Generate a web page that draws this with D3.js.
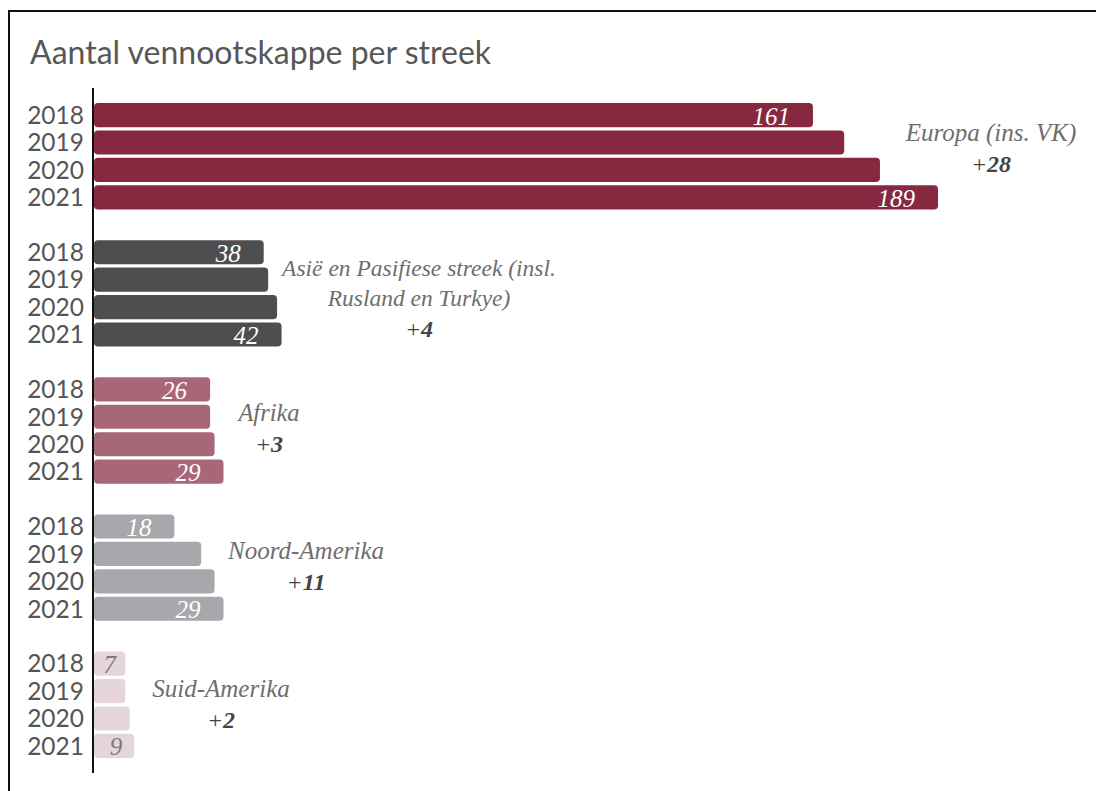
<!DOCTYPE html>
<html>
<head>
<meta charset="utf-8">
<script src="https://cdn.jsdelivr.net/npm/d3@7"></script>
<style>
  html, body { margin: 0; padding: 0; background: #fff; }
  svg { display: block; }
</style>
</head>
<body>
<svg id="chart" width="1096" height="791"></svg>
<script>
// ---- Data ----
const title = "Aantal vennootskappe per streek";
const years = ["2018", "2019", "2020", "2021"];
const regions = ["Europa", "Asie", "Afrika", "NoordAmerika", "SuidAmerika"];
const regionLabels = [
  ["Europa (ins. VK)"],
  ["Asië en Pasifiese streek (insl.", "Rusland en Turkye)"],
  ["Afrika"],
  ["Noord-Amerika"],
  ["Suid-Amerika"]
];
const europa       = [161, 168, 176, 189];
const asie         = [38, 39, 41, 42];
const afrika       = [26, 26, 27, 29];
const noordAmerika = [18, 24, 27, 29];
const suidAmerika  = [7, 7, 8, 9];
const seriesValues = [europa, asie, afrika, noordAmerika, suidAmerika];

// ---- Styles ----
const colors = ["#862840", "#4e4e50", "#a86779", "#a7a8ab", "#e6d5da"];
const valueColors = ["#ffffff", "#ffffff", "#ffffff", "#ffffff", "#7a7a7a"];
const annot = [
  {x: 991, dy: 25, size: 25},
  {x: 419, dy: 23, size: 23.5},
  {x: 269, dy: 31, size: 24.5},
  {x: 306, dy: 32, size: 25},
  {x: 221, dy: 32, size: 25}
];

const svg = d3.select("#chart");

// frame
svg.append("path")
  .attr("d", "M9,800 L9,11 L1110,11")
  .attr("fill", "none")
  .attr("stroke", "#111")
  .attr("stroke-width", 2);

// title
svg.append("text")
  .attr("x", 30).attr("y", 64)
  .attr("font-family", "Lato, 'Open Sans', sans-serif")
  .attr("font-size", 32)
  .attr("fill", "#575757")
  .text(title);

// slots
const slots = [];
regions.forEach((r, gi) => {
  years.forEach((y, yi) => slots.push({key: r + "-" + y, region: r, gi, yi, year: y, value: seriesValues[gi][yi]}));
  if (gi < regions.length - 1) slots.push({key: r + "-gap", gap: true});
});

const yScale = d3.scaleBand()
  .domain(slots.map(d => d.key))
  .range([103, 758])
  .paddingInner(0.12)
  .paddingOuter(0);

const xScale = d3.scaleLinear().domain([0, 189]).range([94, 938]);

const bars = slots.filter(d => !d.gap);

// bars
svg.append("g").selectAll("rect")
  .data(bars).join("rect")
  .attr("x", xScale(0))
  .attr("y", d => yScale(d.key))
  .attr("width", d => xScale(d.value) - xScale(0))
  .attr("height", yScale.bandwidth())
  .attr("rx", 4).attr("ry", 4)
  .attr("fill", d => colors[d.gi]);

// axis (y) with year labels
const yAxis = d3.axisLeft(yScale)
  .tickSize(0)
  .tickPadding(9)
  .tickFormat(k => { const s = slots.find(d => d.key === k); return s.gap ? "" : s.year; });
const ag = svg.append("g").attr("transform", `translate(${xScale(0) - 1},0)`).call(yAxis);
ag.select(".domain").remove();
ag.selectAll("text")
  .attr("font-family", "Lato, 'Open Sans', sans-serif")
  .attr("font-size", 24.5)
  .attr("fill", "#555")
  .attr("dy", "0.36em");
svg.append("line")
  .attr("x1", xScale(0) - 1).attr("x2", xScale(0) - 1)
  .attr("y1", 88).attr("y2", 773)
  .attr("stroke", "#111").attr("stroke-width", 2);

// value labels for first and last year
svg.append("g").selectAll("text")
  .data(bars.filter(d => d.yi === 0 || d.yi === years.length - 1)).join("text")
  .attr("x", d => { const w = xScale(d.value) - xScale(0); return xScale(d.value) - Math.min(23, w * 0.3); })
  .attr("y", d => yScale(d.key) + yScale.bandwidth() / 2)
  .attr("dy", "0.38em")
  .attr("text-anchor", "end")
  .attr("font-family", "'Liberation Serif', 'DejaVu Serif', serif")
  .attr("font-style", "italic")
  .attr("font-size", 25)
  .attr("fill", d => valueColors[d.gi])
  .text(d => d.value);

// annotations
regions.forEach((r, gi) => {
  const first = yScale(r + "-" + years[0]);
  const a = annot[gi];
  const lines = regionLabels[gi];
  const g = svg.append("g")
    .attr("font-family", "'Liberation Serif', 'DejaVu Serif', serif")
    .attr("font-style", "italic")
    .attr("text-anchor", "middle");
  lines.forEach((ln, li) => {
    g.append("text")
      .attr("x", a.x).attr("y", first + a.dy + 13 + li * 30)
      .attr("font-size", a.size)
      .attr("fill", "#6e6e6e")
      .text(ln);
  });
  const vals = seriesValues[gi];
  const delta = vals[vals.length - 1] - vals[0];
  const t = g.append("text")
    .attr("x", a.x).attr("y", first + a.dy + 13 + lines.length * 30 + 1)
    .attr("font-size", 24)
    .attr("fill", "#444");
  t.append("tspan").attr("font-style", "italic").text("+");
  t.append("tspan").attr("font-weight", "bold").text(delta);
});
</script>
</body>
</html>
